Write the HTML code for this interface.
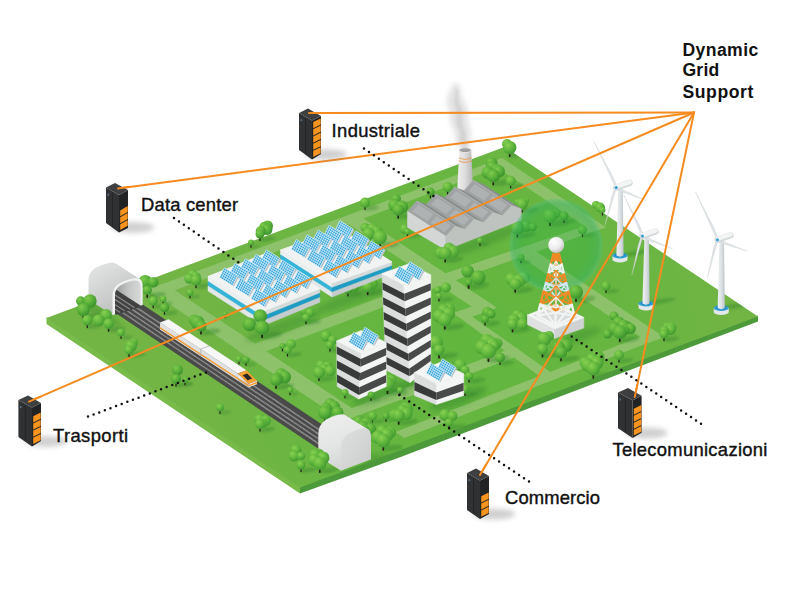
<!DOCTYPE html><html><head><meta charset="utf-8"><title>Dynamic Grid Support</title><style>html,body{margin:0;padding:0;background:#fff}svg{display:block}text{font-family:"Liberation Sans",sans-serif}</style></head><body><svg width="801" height="601" viewBox="0 0 801 601">
<defs>
<radialGradient id="tg" cx="35%" cy="30%" r="75%"><stop offset="0" stop-color="#88d152"/><stop offset=".5" stop-color="#63b83e"/><stop offset="1" stop-color="#3f9830"/></radialGradient>
<radialGradient id="tg2" cx="35%" cy="30%" r="75%"><stop offset="0" stop-color="#80ca4e"/><stop offset=".5" stop-color="#5ab13a"/><stop offset="1" stop-color="#388f2c"/></radialGradient>
<radialGradient id="ball" cx="35%" cy="30%" r="75%"><stop offset="0" stop-color="#ffffff"/><stop offset=".6" stop-color="#ececec"/><stop offset="1" stop-color="#bdbdbd"/></radialGradient>
<radialGradient id="sph" cx="50%" cy="50%" r="50%"><stop offset="0" stop-color="#22ad42" stop-opacity=".26"/><stop offset=".7" stop-color="#22ad46" stop-opacity=".32"/><stop offset=".9" stop-color="#2fb060" stop-opacity=".46"/><stop offset="1" stop-color="#55c080" stop-opacity=".42"/></radialGradient>
<linearGradient id="twr" x1="0" x2="1"><stop offset="0" stop-color="#eef1f2"/><stop offset=".5" stop-color="#dde2e4"/><stop offset="1" stop-color="#bcc4c8"/></linearGradient>
<linearGradient id="chim" x1="0" x2="1"><stop offset="0" stop-color="#f0f0f0"/><stop offset=".5" stop-color="#dcdcdc"/><stop offset="1" stop-color="#b4b4b4"/></linearGradient>
<linearGradient id="pan" x1="0" y1="1" x2="1" y2="0"><stop offset="0" stop-color="#2797d4"/><stop offset="1" stop-color="#3aaee2"/></linearGradient>
<linearGradient id="tun" x1="0" y1="0" x2=".6" y2="1"><stop offset="0" stop-color="#e6e8e8"/><stop offset=".45" stop-color="#d3d5d5"/><stop offset="1" stop-color="#b9bcbc"/></linearGradient><linearGradient id="tunin" x1="0" y1="0" x2="1" y2="0"><stop offset="0" stop-color="#9a9c9c"/><stop offset=".5" stop-color="#c2c4c4"/><stop offset="1" stop-color="#d8dada"/></linearGradient><linearGradient id="tun2" x1="0" y1="0" x2=".3" y2="1"><stop offset="0" stop-color="#efefef"/><stop offset=".6" stop-color="#e3e4e4"/><stop offset="1" stop-color="#d4d5d5"/></linearGradient><linearGradient id="tun2f" x1="0" y1="0" x2="1" y2="1"><stop offset="0" stop-color="#dedfdf"/><stop offset="1" stop-color="#cbcccc"/></linearGradient>
<radialGradient id="gtint" gradientUnits="userSpaceOnUse" cx="470" cy="350" r="270"><stop offset="0" stop-color="#48b834" stop-opacity=".4"/><stop offset=".6" stop-color="#48b834" stop-opacity=".24"/><stop offset="1" stop-color="#48b834" stop-opacity="0"/></radialGradient>
<filter id="b1" x="-50%" y="-50%" width="200%" height="200%"><feGaussianBlur stdDeviation="1.2"/></filter>
<filter id="b2" x="-50%" y="-50%" width="200%" height="200%"><feGaussianBlur stdDeviation="2.5"/></filter>
<filter id="b3" x="-50%" y="-50%" width="200%" height="200%"><feGaussianBlur stdDeviation="4"/></filter>
<g id="panel">
<polygon points="13,8.1 17.9,-1.6 19.4,-0.3 14.3,8.9" fill="#b9bfc4"/>
<polygon points="0,0 4.9,-9.7 17.9,-1.6 13,8.1" fill="url(#pan)"/>
<path d="M0.00,-0.00 l13,8.1 M0.98,-1.94 l13,8.1 M1.96,-3.88 l13,8.1 M2.94,-5.82 l13,8.1 M3.92,-7.76 l13,8.1 M4.90,-9.70 l13,8.1 M0.00,0.00 l4.9,-9.7 M1.86,1.16 l4.9,-9.7 M3.71,2.31 l4.9,-9.7 M5.57,3.47 l4.9,-9.7 M7.43,4.63 l4.9,-9.7 M9.29,5.79 l4.9,-9.7 M11.14,6.94 l4.9,-9.7 M13.00,8.10 l4.9,-9.7 " stroke="#f4fbff" stroke-width=".75" stroke-opacity=".8" fill="none"/>
</g>
</defs>

<polygon points="46.5,317.0 300.0,486.5 300.0,493.5 46.5,324.0" fill="#79bb4a" />
<polygon points="300.0,486.5 758.0,315.5 758.0,321.5 400.0,457.3 300.0,493.5" fill="#4d9a3a" />
<polygon points="46.5,318.0 504.5,147.0 758.0,316.5 300.0,487.5" fill="#72b545" />
<polygon points="46.5,318.0 504.5,147.0 758.0,316.5 300.0,487.5" fill="url(#gtint)"/>
<g transform="matrix(4.5800,-1.7100,2.5350,1.6950,46.5,318.0)">
<polygon points="20,3.5 97.35,3.8 97.35,6.7 20,7.7" fill="#8dc26a"/>
<polygon points="94.65,3.8 97.35,3.8 97.35,44.7 94.65,44.7" fill="#8dc26a"/>
<polygon points="20.2,3.5 23.8,3.5 23.9,81 20,81" fill="#8dc26a"/>
<polygon points="20,39.2 65,39.4 97.35,41.4 97.35,44.7 65,43.5 20,43.6" fill="#8dc26a"/>
<polygon points="79.25,41 82.55000000000001,41 82.55000000000001,94.5 79.25,94.5" fill="#8dc26a"/>
<polygon points="25,92.5 82.55,90.9 82.55,94.3 25,96" fill="#8dc26a"/>
<polygon points="20,77.19999999999999 59.5,77.19999999999999 59.5,81.0 20,81.0" fill="#8dc26a"/>
<polygon points="61.95,3.8 65.25,3.8 65.25,59.7 61.95,59.7" fill="#8dc26a"/>
<polygon points="58,55.7 65.2,55.7 65.2,59.7 58,59.7" fill="#8dc26a"/>
<polygon points="58,55.7 60.0,55.7 59.2,95 56.8,95" fill="#8dc26a"/>
<rect x="10.7" y="6" width="5.6" height="88" fill="#4a4a4a"/>
<line x1="11.8" y1="6" x2="11.8" y2="94" stroke="#a0a0a0" stroke-width=".36"/>
<line x1="11.8" y1="6" x2="11.8" y2="94" stroke="#5e5e5e" stroke-width=".36" stroke-dasharray=".2 .34"/>
<line x1="12.8" y1="6" x2="12.8" y2="94" stroke="#a0a0a0" stroke-width=".36"/>
<line x1="12.8" y1="6" x2="12.8" y2="94" stroke="#5e5e5e" stroke-width=".36" stroke-dasharray=".2 .34"/>
<line x1="13.8" y1="6" x2="13.8" y2="94" stroke="#a0a0a0" stroke-width=".36"/>
<line x1="13.8" y1="6" x2="13.8" y2="94" stroke="#5e5e5e" stroke-width=".36" stroke-dasharray=".2 .34"/>
<line x1="14.8" y1="6" x2="14.8" y2="94" stroke="#a0a0a0" stroke-width=".36"/>
<line x1="14.8" y1="6" x2="14.8" y2="94" stroke="#5e5e5e" stroke-width=".36" stroke-dasharray=".2 .34"/>
</g>
<clipPath id="gclip"><polygon points="46.5,318.0 504.5,147.0 758.0,316.5 300.0,487.5"/></clipPath>
<g clip-path="url(#gclip)"><ellipse cx="91.7" cy="317.9" rx="10.4" ry="2.8" fill="#2e7d2a" opacity=".36" filter="url(#b1)" transform="rotate(-8 83.3 316.3)"/><ellipse cx="93.9" cy="327.1" rx="8.2" ry="2.2" fill="#2e7d2a" opacity=".36" filter="url(#b1)" transform="rotate(-8 87.3 325.5)"/><ellipse cx="116.1" cy="330.5" rx="9.3" ry="2.5" fill="#2e7d2a" opacity=".36" filter="url(#b1)" transform="rotate(-8 108.6 328.9)"/><ellipse cx="155.6" cy="296.6" rx="10.4" ry="2.8" fill="#2e7d2a" opacity=".36" filter="url(#b1)" transform="rotate(-8 147.2 295.0)"/><ellipse cx="159.1" cy="307.3" rx="7.3" ry="2.0" fill="#2e7d2a" opacity=".36" filter="url(#b1)" transform="rotate(-8 153.2 305.7)"/><ellipse cx="167.3" cy="303.9" rx="5.1" ry="1.4" fill="#2e7d2a" opacity=".36" filter="url(#b1)" transform="rotate(-8 163.2 302.3)"/><ellipse cx="170.4" cy="313.9" rx="7.3" ry="2.0" fill="#2e7d2a" opacity=".36" filter="url(#b1)" transform="rotate(-8 164.5 312.3)"/><ellipse cx="202.9" cy="287.1" rx="8.5" ry="2.3" fill="#2e7d2a" opacity=".36" filter="url(#b1)" transform="rotate(-8 196.0 285.5)"/><ellipse cx="194.4" cy="297.6" rx="5.4" ry="1.5" fill="#2e7d2a" opacity=".36" filter="url(#b1)" transform="rotate(-8 190.0 296.0)"/><ellipse cx="209.8" cy="333.1" rx="10.8" ry="2.9" fill="#2e7d2a" opacity=".36" filter="url(#b1)" transform="rotate(-8 201.0 331.5)"/><ellipse cx="126.0" cy="338.1" rx="6.2" ry="1.7" fill="#2e7d2a" opacity=".36" filter="url(#b1)" transform="rotate(-8 121.0 336.5)"/><ellipse cx="136.5" cy="356.1" rx="9.3" ry="2.5" fill="#2e7d2a" opacity=".36" filter="url(#b1)" transform="rotate(-8 129.0 354.5)"/><ellipse cx="182.9" cy="385.6" rx="8.5" ry="2.3" fill="#2e7d2a" opacity=".36" filter="url(#b1)" transform="rotate(-8 176.0 384.0)"/><ellipse cx="188.8" cy="384.6" rx="4.7" ry="1.3" fill="#2e7d2a" opacity=".36" filter="url(#b1)" transform="rotate(-8 185.0 383.0)"/><ellipse cx="227.5" cy="317.6" rx="3.1" ry="0.8" fill="#2e7d2a" opacity=".36" filter="url(#b1)" transform="rotate(-8 225.0 316.0)"/><ellipse cx="271.2" cy="336.6" rx="11.3" ry="3.1" fill="#2e7d2a" opacity=".36" filter="url(#b1)" transform="rotate(-8 262.1 335.0)"/><ellipse cx="312.9" cy="323.1" rx="8.5" ry="2.3" fill="#2e7d2a" opacity=".36" filter="url(#b1)" transform="rotate(-8 306.0 321.5)"/><ellipse cx="293.8" cy="355.6" rx="7.8" ry="2.1" fill="#2e7d2a" opacity=".36" filter="url(#b1)" transform="rotate(-8 287.5 354.0)"/><ellipse cx="286.2" cy="350.6" rx="4.7" ry="1.3" fill="#2e7d2a" opacity=".36" filter="url(#b1)" transform="rotate(-8 282.5 349.0)"/><ellipse cx="336.9" cy="350.6" rx="8.5" ry="2.3" fill="#2e7d2a" opacity=".36" filter="url(#b1)" transform="rotate(-8 330.0 349.0)"/><ellipse cx="326.5" cy="380.1" rx="9.3" ry="2.5" fill="#2e7d2a" opacity=".36" filter="url(#b1)" transform="rotate(-8 319.0 378.5)"/><ellipse cx="284.1" cy="387.6" rx="10.1" ry="2.7" fill="#2e7d2a" opacity=".36" filter="url(#b1)" transform="rotate(-8 276.0 386.0)"/><ellipse cx="293.8" cy="394.6" rx="4.7" ry="1.3" fill="#2e7d2a" opacity=".36" filter="url(#b1)" transform="rotate(-8 290.0 393.0)"/><ellipse cx="242.8" cy="363.6" rx="4.7" ry="1.3" fill="#2e7d2a" opacity=".36" filter="url(#b1)" transform="rotate(-8 239.0 362.0)"/><ellipse cx="250.4" cy="365.1" rx="5.4" ry="1.5" fill="#2e7d2a" opacity=".36" filter="url(#b1)" transform="rotate(-8 246.0 363.5)"/><ellipse cx="225.0" cy="413.1" rx="6.2" ry="1.7" fill="#2e7d2a" opacity=".36" filter="url(#b1)" transform="rotate(-8 220.0 411.5)"/><ellipse cx="266.8" cy="430.6" rx="8.4" ry="2.3" fill="#2e7d2a" opacity=".36" filter="url(#b1)" transform="rotate(-8 260.0 429.0)"/><ellipse cx="333.8" cy="421.1" rx="10.8" ry="2.9" fill="#2e7d2a" opacity=".36" filter="url(#b1)" transform="rotate(-8 325.0 419.5)"/><ellipse cx="307.9" cy="471.1" rx="8.5" ry="2.3" fill="#2e7d2a" opacity=".36" filter="url(#b1)" transform="rotate(-8 301.0 469.5)"/><ellipse cx="328.1" cy="471.6" rx="10.2" ry="2.8" fill="#2e7d2a" opacity=".36" filter="url(#b1)" transform="rotate(-8 319.8 470.0)"/><ellipse cx="372.5" cy="436.9" rx="10.1" ry="2.7" fill="#2e7d2a" opacity=".36" filter="url(#b1)" transform="rotate(-8 364.4 435.3)"/><ellipse cx="392.1" cy="449.2" rx="10.8" ry="2.9" fill="#2e7d2a" opacity=".36" filter="url(#b1)" transform="rotate(-8 383.3 447.6)"/><ellipse cx="349.4" cy="397.6" rx="5.4" ry="1.5" fill="#2e7d2a" opacity=".36" filter="url(#b1)" transform="rotate(-8 345.0 396.0)"/><ellipse cx="375.4" cy="400.1" rx="5.4" ry="1.5" fill="#2e7d2a" opacity=".36" filter="url(#b1)" transform="rotate(-8 371.0 398.5)"/><ellipse cx="396.2" cy="392.6" rx="10.8" ry="2.9" fill="#2e7d2a" opacity=".36" filter="url(#b1)" transform="rotate(-8 387.5 391.0)"/><ellipse cx="407.4" cy="423.3" rx="10.8" ry="2.9" fill="#2e7d2a" opacity=".36" filter="url(#b1)" transform="rotate(-8 398.7 421.7)"/><ellipse cx="390.4" cy="421.1" rx="5.4" ry="1.5" fill="#2e7d2a" opacity=".36" filter="url(#b1)" transform="rotate(-8 386.0 419.5)"/><ellipse cx="378.1" cy="422.1" rx="7.0" ry="1.9" fill="#2e7d2a" opacity=".36" filter="url(#b1)" transform="rotate(-8 372.5 420.5)"/><ellipse cx="403.8" cy="394.6" rx="4.7" ry="1.3" fill="#2e7d2a" opacity=".36" filter="url(#b1)" transform="rotate(-8 400.0 393.0)"/><ellipse cx="354.6" cy="295.4" rx="8.4" ry="2.3" fill="#2e7d2a" opacity=".36" filter="url(#b1)" transform="rotate(-8 347.9 293.8)"/><ellipse cx="375.8" cy="293.8" rx="10.1" ry="2.7" fill="#2e7d2a" opacity=".36" filter="url(#b1)" transform="rotate(-8 367.7 292.2)"/><ellipse cx="453.3" cy="261.2" rx="10.1" ry="2.7" fill="#2e7d2a" opacity=".36" filter="url(#b1)" transform="rotate(-8 445.2 259.6)"/><ellipse cx="477.7" cy="287.2" rx="11.3" ry="3.1" fill="#2e7d2a" opacity=".36" filter="url(#b1)" transform="rotate(-8 468.6 285.6)"/><ellipse cx="445.2" cy="300.6" rx="7.8" ry="2.1" fill="#2e7d2a" opacity=".36" filter="url(#b1)" transform="rotate(-8 439.0 299.0)"/><ellipse cx="453.6" cy="328.2" rx="10.8" ry="2.9" fill="#2e7d2a" opacity=".36" filter="url(#b1)" transform="rotate(-8 444.8 326.6)"/><ellipse cx="491.9" cy="324.6" rx="8.5" ry="2.3" fill="#2e7d2a" opacity=".36" filter="url(#b1)" transform="rotate(-8 485.0 323.0)"/><ellipse cx="447.8" cy="357.1" rx="10.8" ry="2.9" fill="#2e7d2a" opacity=".36" filter="url(#b1)" transform="rotate(-8 439.0 355.5)"/><ellipse cx="498.0" cy="360.4" rx="11.9" ry="3.2" fill="#2e7d2a" opacity=".36" filter="url(#b1)" transform="rotate(-8 488.4 358.8)"/><ellipse cx="506.2" cy="364.1" rx="7.8" ry="2.1" fill="#2e7d2a" opacity=".36" filter="url(#b1)" transform="rotate(-8 500.0 362.5)"/><ellipse cx="476.5" cy="381.6" rx="9.3" ry="2.5" fill="#2e7d2a" opacity=".36" filter="url(#b1)" transform="rotate(-8 469.0 380.0)"/><ellipse cx="470.6" cy="395.1" rx="7.0" ry="1.9" fill="#2e7d2a" opacity=".36" filter="url(#b1)" transform="rotate(-8 465.0 393.5)"/><ellipse cx="266.9" cy="240.1" rx="8.5" ry="2.3" fill="#2e7d2a" opacity=".36" filter="url(#b1)" transform="rotate(-8 260.0 238.5)"/><ellipse cx="254.8" cy="247.1" rx="4.7" ry="1.3" fill="#2e7d2a" opacity=".36" filter="url(#b1)" transform="rotate(-8 251.0 245.5)"/><ellipse cx="388.8" cy="246.1" rx="10.8" ry="2.9" fill="#2e7d2a" opacity=".36" filter="url(#b1)" transform="rotate(-8 380.0 244.5)"/><ellipse cx="406.3" cy="217.3" rx="10.1" ry="2.7" fill="#2e7d2a" opacity=".36" filter="url(#b1)" transform="rotate(-8 398.2 215.7)"/><ellipse cx="371.2" cy="209.1" rx="7.8" ry="2.1" fill="#2e7d2a" opacity=".36" filter="url(#b1)" transform="rotate(-8 365.0 207.5)"/><ellipse cx="518.1" cy="155.9" rx="10.4" ry="2.8" fill="#2e7d2a" opacity=".36" filter="url(#b1)" transform="rotate(-8 509.7 154.3)"/><ellipse cx="501.6" cy="184.1" rx="10.2" ry="2.8" fill="#2e7d2a" opacity=".36" filter="url(#b1)" transform="rotate(-8 493.3 182.5)"/><ellipse cx="517.0" cy="187.6" rx="7.8" ry="2.1" fill="#2e7d2a" opacity=".36" filter="url(#b1)" transform="rotate(-8 510.7 186.0)"/><ellipse cx="453.9" cy="193.6" rx="7.8" ry="2.1" fill="#2e7d2a" opacity=".36" filter="url(#b1)" transform="rotate(-8 447.6 192.0)"/><ellipse cx="435.6" cy="197.4" rx="6.5" ry="1.8" fill="#2e7d2a" opacity=".36" filter="url(#b1)" transform="rotate(-8 430.4 195.8)"/><ellipse cx="413.6" cy="236.4" rx="7.8" ry="2.1" fill="#2e7d2a" opacity=".36" filter="url(#b1)" transform="rotate(-8 407.4 234.8)"/><ellipse cx="529.5" cy="211.6" rx="9.3" ry="2.5" fill="#2e7d2a" opacity=".36" filter="url(#b1)" transform="rotate(-8 522.0 210.0)"/><ellipse cx="525.8" cy="236.3" rx="10.4" ry="2.8" fill="#2e7d2a" opacity=".36" filter="url(#b1)" transform="rotate(-8 517.4 234.7)"/><ellipse cx="483.8" cy="245.0" rx="4.7" ry="1.3" fill="#2e7d2a" opacity=".36" filter="url(#b1)" transform="rotate(-8 480.0 243.4)"/><ellipse cx="558.8" cy="224.6" rx="10.8" ry="2.9" fill="#2e7d2a" opacity=".36" filter="url(#b1)" transform="rotate(-8 550.0 223.0)"/><ellipse cx="569.6" cy="222.1" rx="7.0" ry="1.9" fill="#2e7d2a" opacity=".36" filter="url(#b1)" transform="rotate(-8 564.0 220.5)"/><ellipse cx="588.1" cy="236.1" rx="7.0" ry="1.9" fill="#2e7d2a" opacity=".36" filter="url(#b1)" transform="rotate(-8 582.5 234.5)"/><ellipse cx="608.8" cy="214.6" rx="7.8" ry="2.1" fill="#2e7d2a" opacity=".36" filter="url(#b1)" transform="rotate(-8 602.5 213.0)"/><ellipse cx="525.4" cy="262.6" rx="5.4" ry="1.5" fill="#2e7d2a" opacity=".36" filter="url(#b1)" transform="rotate(-8 521.0 261.0)"/><ellipse cx="523.3" cy="291.3" rx="10.1" ry="2.7" fill="#2e7d2a" opacity=".36" filter="url(#b1)" transform="rotate(-8 515.2 289.7)"/><ellipse cx="611.6" cy="292.1" rx="7.0" ry="1.9" fill="#2e7d2a" opacity=".36" filter="url(#b1)" transform="rotate(-8 606.0 290.5)"/><ellipse cx="584.8" cy="300.6" rx="10.8" ry="2.9" fill="#2e7d2a" opacity=".36" filter="url(#b1)" transform="rotate(-8 576.0 299.0)"/><ellipse cx="520.6" cy="331.1" rx="10.1" ry="2.7" fill="#2e7d2a" opacity=".36" filter="url(#b1)" transform="rotate(-8 512.5 329.5)"/><ellipse cx="551.2" cy="356.1" rx="10.8" ry="2.9" fill="#2e7d2a" opacity=".36" filter="url(#b1)" transform="rotate(-8 542.5 354.5)"/><ellipse cx="569.1" cy="360.1" rx="10.1" ry="2.7" fill="#2e7d2a" opacity=".36" filter="url(#b1)" transform="rotate(-8 561.0 358.5)"/><ellipse cx="602.0" cy="377.2" rx="10.8" ry="2.9" fill="#2e7d2a" opacity=".36" filter="url(#b1)" transform="rotate(-8 593.3 375.6)"/><ellipse cx="625.2" cy="361.6" rx="7.8" ry="2.1" fill="#2e7d2a" opacity=".36" filter="url(#b1)" transform="rotate(-8 619.0 360.0)"/><ellipse cx="628.5" cy="340.7" rx="10.8" ry="2.9" fill="#2e7d2a" opacity=".36" filter="url(#b1)" transform="rotate(-8 619.8 339.1)"/><ellipse cx="670.9" cy="340.1" rx="8.5" ry="2.3" fill="#2e7d2a" opacity=".36" filter="url(#b1)" transform="rotate(-8 664.0 338.5)"/><ellipse cx="456.5" cy="428.1" rx="9.3" ry="2.5" fill="#2e7d2a" opacity=".36" filter="url(#b1)" transform="rotate(-8 449.0 426.5)"/><ellipse cx="282.5" cy="327.0" rx="40" ry="6" fill="#2e7d2a" opacity=".3" filter="url(#b2)" transform="rotate(-20 282.5 326.0)"/><ellipse cx="352.0" cy="298.0" rx="40" ry="6" fill="#2e7d2a" opacity=".3" filter="url(#b2)" transform="rotate(-20 352.0 297.0)"/><ellipse cx="432.0" cy="376.5" rx="30" ry="7" fill="#2b7a28" opacity=".35" filter="url(#b2)" transform="rotate(-20 432.0 376.5)"/><ellipse cx="380.7" cy="393.0" rx="30" ry="7" fill="#2b7a28" opacity=".35" filter="url(#b2)" transform="rotate(-20 380.7 393.0)"/><ellipse cx="458.3" cy="398.5" rx="30" ry="7" fill="#2b7a28" opacity=".35" filter="url(#b2)" transform="rotate(-20 458.3 398.5)"/><ellipse cx="480.9" cy="242.0" rx="42" ry="6" fill="#2b7a28" opacity=".3" filter="url(#b2)" transform="rotate(-21 480.9 242.0)"/><ellipse cx="101.5" cy="314" rx="22" ry="5" fill="#2b7a28" opacity=".3" filter="url(#b2)" transform="rotate(33 101.5 314)"/><ellipse cx="377.8" cy="458.8" rx="16" ry="5" fill="#2b7a28" opacity=".3" filter="url(#b2)"/><ellipse cx="580" cy="336" rx="22" ry="5" fill="#2b7a28" opacity=".3" filter="url(#b2)" transform="rotate(-20 580 336)"/><ellipse cx="634" cy="256" rx="16" ry="2.5" fill="#2b7a28" opacity=".35" filter="url(#b1)" transform="rotate(-10 620 257)"/><ellipse cx="660" cy="304" rx="16" ry="2.5" fill="#2b7a28" opacity=".35" filter="url(#b1)" transform="rotate(-10 646 305)"/><ellipse cx="735.25" cy="308.5" rx="16" ry="2.5" fill="#2b7a28" opacity=".35" filter="url(#b1)" transform="rotate(-10 721.25 309.5)"/></g>
<path d="M509.7,152.3 v4.2" stroke="#241f14" stroke-width="1.6" stroke-linecap="round"/><circle cx="507" cy="144" r="5" fill="url(#tg)"/><circle cx="509.7" cy="147.6" r="6.7" fill="url(#tg)"/>
<path d="M493.3,180.5 v4.2" stroke="#241f14" stroke-width="1.6" stroke-linecap="round"/><circle cx="491.5" cy="163" r="6" fill="url(#tg2)"/><circle cx="492.0" cy="166.8" r="5.7" fill="url(#tg2)"/><circle cx="496.5" cy="170.4" r="6.5" fill="url(#tg2)"/><circle cx="499" cy="171.5" r="6" fill="url(#tg2)"/><circle cx="487.9" cy="172.6" r="6.3" fill="url(#tg2)"/><circle cx="493.3" cy="175.9" r="6.6" fill="url(#tg2)"/>
<path d="M510.7,184.0 v4.0" stroke="#241f14" stroke-width="1.2" stroke-linecap="round"/><circle cx="510.7" cy="181" r="5" fill="url(#tg)"/>
<path d="M447.6,190.0 v4.0" stroke="#241f14" stroke-width="1.2" stroke-linecap="round"/><circle cx="447.6" cy="187" r="5" fill="url(#tg)"/>
<path d="M430.4,193.8 v3.9" stroke="#241f14" stroke-width="1.2" stroke-linecap="round"/><circle cx="430.4" cy="191.6" r="4.2" fill="url(#tg2)"/>
<path d="M365.0,205.5 v4.0" stroke="#241f14" stroke-width="1.2" stroke-linecap="round"/><circle cx="365" cy="202.5" r="5" fill="url(#tg)"/>
<path d="M522.0,208.0 v4.1" stroke="#241f14" stroke-width="1.4" stroke-linecap="round"/><circle cx="526" cy="201" r="3" fill="url(#tg)"/><circle cx="517.4" cy="202" r="3" fill="url(#tg)"/><circle cx="522" cy="204" r="6" fill="url(#tg)"/>
<path d="M459.2,150.2 L457.2,192 Q465.2,196 473.2,192 L471.2,150.2 Z" fill="url(#chim)"/><ellipse cx="465.2" cy="150.2" rx="6" ry="2.4" fill="#9c9c9c" stroke="#e9e9e9" stroke-width="1"/><path d="M458.9,157.7 q6.3,3.4 12.6,0 M458.75,160.7 q6.45,3.4 12.9,0" stroke="#f0923a" stroke-width=".8" fill="none"/><g filter="url(#b2)" opacity=".42"><path d="M460.7,148.5 C452.5,141.0 457.0,135.0 452.5,127.5 C448.0,120.0 451.0,114.0 447.2,105.0 C445.0,97.5 451.0,91.5 452.5,84.0 L458.5,83.2 C462.2,91.5 460.7,96.0 465.2,103.5 C470.5,111.0 466.0,118.5 469.3,126.0 C472.7,135.0 469.3,142.5 470.2,148.5 Z" fill="#bdbdbd"/></g><g filter="url(#b1)" opacity=".2"><path d="M462.2,148.2 C457.0,141.0 462.2,135.0 457.7,127.5 C454.0,120.0 458.5,112.5 454.7,105.0 C452.5,99.0 456.2,94.5 455.5,88.5 L457.7,88.5 C459.2,96.0 457.7,100.5 460.7,106.5 C464.5,114.0 460.7,120.0 463.7,127.5 C467.5,135.0 465.2,141.0 468.2,148.2 Z" fill="#9d9d9d"/></g>
<path d="M602.5,211.0 v4.0" stroke="#241f14" stroke-width="1.2" stroke-linecap="round"/><circle cx="596" cy="205" r="4" fill="url(#tg)"/><circle cx="600" cy="207.5" r="5" fill="url(#tg)"/><circle cx="602.5" cy="210" r="3" fill="url(#tg)"/>
<path d="M398.2,213.7 v4.2" stroke="#241f14" stroke-width="1.6" stroke-linecap="round"/><circle cx="396" cy="199" r="5" fill="url(#tg2)"/><circle cx="394.4" cy="205.1" r="6.3" fill="url(#tg2)"/><circle cx="401.8" cy="206.9" r="6.5" fill="url(#tg2)"/><circle cx="398.2" cy="209.8" r="5.9" fill="url(#tg2)"/>
<path d="M564.0,218.5 v3.9" stroke="#241f14" stroke-width="1.2" stroke-linecap="round"/><circle cx="564" cy="216" r="4.5" fill="url(#tg2)"/>
<path d="M550.0,221.0 v4.2" stroke="#241f14" stroke-width="1.7" stroke-linecap="round"/><circle cx="555" cy="214" r="5" fill="url(#tg)"/><circle cx="550" cy="216" r="7" fill="url(#tg)"/>
<path d="M582.5,232.5 v3.9" stroke="#241f14" stroke-width="1.2" stroke-linecap="round"/><circle cx="582.5" cy="230" r="4.5" fill="url(#tg)"/>
<path d="M517.4,232.7 v4.2" stroke="#241f14" stroke-width="1.6" stroke-linecap="round"/><circle cx="526" cy="226" r="6" fill="url(#tg2)"/><circle cx="532.7" cy="227" r="4.2" fill="url(#tg2)"/><circle cx="517.4" cy="228" r="6.7" fill="url(#tg2)"/>
<path d="M407.4,232.8 v4.0" stroke="#241f14" stroke-width="1.2" stroke-linecap="round"/><circle cx="404.6" cy="229" r="5" fill="url(#tg)"/><circle cx="407.4" cy="231.8" r="3" fill="url(#tg)"/>
<path d="M260.0,236.5 v4.1" stroke="#241f14" stroke-width="1.3" stroke-linecap="round"/><circle cx="267.5" cy="226" r="5.5" fill="url(#tg2)"/><circle cx="264.0" cy="226.8" r="4.7" fill="url(#tg2)"/><circle cx="267.0" cy="229.6" r="5.4" fill="url(#tg2)"/><circle cx="260.9" cy="231.1" r="5.2" fill="url(#tg2)"/><circle cx="260" cy="234" r="4.5" fill="url(#tg2)"/>
<path d="M480.0,241.4 v3.8" stroke="#241f14" stroke-width="1.2" stroke-linecap="round"/><circle cx="480" cy="240.4" r="3" fill="url(#tg)"/>
<path d="M380.0,242.5 v4.2" stroke="#241f14" stroke-width="1.7" stroke-linecap="round"/><circle cx="365" cy="227.5" r="4.5" fill="url(#tg)"/><circle cx="372.5" cy="228.7" r="5.6" fill="url(#tg)"/><circle cx="376.1" cy="232.1" r="6.5" fill="url(#tg)"/><circle cx="368.7" cy="233.8" r="6.3" fill="url(#tg)"/><circle cx="380" cy="237.5" r="7" fill="url(#tg)"/>
<path d="M251.0,243.5 v3.8" stroke="#241f14" stroke-width="1.2" stroke-linecap="round"/><circle cx="251" cy="242.5" r="3" fill="url(#tg)"/>
<polygon points="511.8,205.4 521.2,208.8 482.7,183.9 473.3,180.5" fill="#8b8e8f" stroke="#8b8e8f" stroke-width=".5"/><polygon points="502.4,215.6 511.8,205.4 473.3,180.5 463.9,190.7" fill="#a0a3a4" stroke="#a0a3a4" stroke-width=".5"/><path d="M511.8,205.4 l-38.5,-24.9" stroke="#b9bcbd" stroke-width=".8"/><polygon points="501.2,211.6 507.3,204.9 493.1,195.7 487.0,202.4" fill="#afb2b3" /><polygon points="483.9,200.4 490.0,193.7 475.0,184.0 468.9,190.7" fill="#afb2b3" /><polygon points="493.0,212.2 502.4,215.6 463.9,190.7 454.5,187.3" fill="#8b8e8f" stroke="#8b8e8f" stroke-width=".5"/><polygon points="483.6,222.5 493.0,212.2 454.5,187.3 445.1,197.6" fill="#a0a3a4" stroke="#a0a3a4" stroke-width=".5"/><path d="M493.0,212.2 l-38.5,-24.9" stroke="#b9bcbd" stroke-width=".8"/><polygon points="482.4,218.4 488.5,211.8 474.3,202.6 468.1,209.2" fill="#afb2b3" /><polygon points="465.1,207.2 471.2,200.6 456.2,190.9 450.1,197.5" fill="#afb2b3" /><polygon points="474.2,219.1 483.6,222.5 445.1,197.6 435.7,194.2" fill="#8b8e8f" stroke="#8b8e8f" stroke-width=".5"/><polygon points="464.8,229.3 474.2,219.1 435.7,194.2 426.3,204.4" fill="#a0a3a4" stroke="#a0a3a4" stroke-width=".5"/><path d="M474.2,219.1 l-38.5,-24.9" stroke="#b9bcbd" stroke-width=".8"/><polygon points="463.6,225.3 469.7,218.6 455.4,209.4 449.3,216.1" fill="#afb2b3" /><polygon points="446.2,214.1 452.4,207.4 437.4,197.7 431.2,204.4" fill="#afb2b3" /><polygon points="455.3,226.0 464.8,229.3 426.3,204.4 416.9,201.1" fill="#8b8e8f" stroke="#8b8e8f" stroke-width=".5"/><polygon points="445.9,236.2 455.3,226.0 416.9,201.1 407.5,211.3" fill="#a0a3a4" stroke="#a0a3a4" stroke-width=".5"/><path d="M455.3,226.0 l-38.5,-24.9" stroke="#b9bcbd" stroke-width=".8"/><polygon points="444.7,232.2 450.9,225.5 436.6,216.3 430.5,222.9" fill="#afb2b3" /><polygon points="427.4,221.0 433.5,214.3 418.5,204.6 412.4,211.2" fill="#afb2b3" /><polygon points="407.5,227.4 445.9,250.0 445.9,236.2 407.5,211.3" fill="#d3d6d5" stroke="#d3d6d5" stroke-width=".5"/><polygon points="445.9,250.0 521.2,220.0 521.2,208.8 511.8,205.4 502.4,215.6 493.0,212.2 483.6,222.5 474.2,219.1 464.8,229.3 455.3,226.0 445.9,236.2" fill="#bfc3c0" stroke="#bfc3c0" stroke-width=".5"/>
<path d="M612.5,255.5 v4 a7.5,3 0 0 0 15,0 v-4 Z" fill="#e4e8e8"/><ellipse cx="620" cy="255.5" rx="7.5" ry="3" fill="#2f9fd3"/><ellipse cx="620" cy="254.8" rx="5" ry="2" fill="#1d84bd"/><path d="M616.4,255.5 L618.1500000000001,189.0 L622.75,189.0 L623.6,255.5 Q620,257.8 616.4,255.5 Z" fill="url(#twr)"/><polygon points="617.4,186.9 612.1,175.2 593.8,141.2 615.8,187.7" fill="#dfe4e6" stroke="#c6cdd0" stroke-width=".3"/><polygon points="615.7,188.7 623.1,192.3 646.2,200.5 616.5,187.0" fill="#dfe4e6" stroke="#c6cdd0" stroke-width=".3"/><polygon points="615.0,187.1 611.8,196.4 605.0,225.0 616.7,187.6" fill="#dfe4e6" stroke="#c6cdd0" stroke-width=".3"/><path d="M616.25,187.5 L629.5,182.9" stroke="#d5dadb" stroke-width="6.4" stroke-linecap="round"/><path d="M616.55,186.6 L629.8,182.0" stroke="#f3f5f5" stroke-width="4.2" stroke-linecap="round"/><circle cx="616.25" cy="187.5" r="1.5" fill="#2f9fd3"/>
<path d="M445.2,257.6 v4.2" stroke="#241f14" stroke-width="1.6" stroke-linecap="round"/><circle cx="449.0" cy="248.2" r="5.6" fill="url(#tg)"/><circle cx="452.6" cy="251.6" r="6.5" fill="url(#tg)"/><circle cx="441" cy="253" r="6" fill="url(#tg)"/><circle cx="445.2" cy="253.3" r="6.3" fill="url(#tg)"/>
<path d="M521.0,259.0 v3.8" stroke="#241f14" stroke-width="1.2" stroke-linecap="round"/><circle cx="521" cy="257.5" r="3.5" fill="url(#tg2)"/>
<path d="M196.0,283.5 v4.1" stroke="#241f14" stroke-width="1.3" stroke-linecap="round"/><circle cx="192.5" cy="274.4" r="4.7" fill="url(#tg)"/><circle cx="195.5" cy="277.1" r="5.4" fill="url(#tg)"/><circle cx="189.3" cy="278.6" r="5.2" fill="url(#tg)"/><circle cx="196" cy="280" r="5.5" fill="url(#tg)"/>
<path d="M468.6,283.6 v4.3" stroke="#241f14" stroke-width="1.8" stroke-linecap="round"/><circle cx="467.6" cy="271.3" r="6.3" fill="url(#tg2)"/><circle cx="478.3" cy="277.6" r="7.3" fill="url(#tg2)"/><circle cx="468.6" cy="282.3" r="3.3" fill="url(#tg2)"/>
<path d="M515.2,287.7 v4.2" stroke="#241f14" stroke-width="1.6" stroke-linecap="round"/><circle cx="524" cy="277.5" r="6" fill="url(#tg)"/><circle cx="511.4" cy="279.1" r="6.3" fill="url(#tg)"/><circle cx="518.8" cy="280.9" r="6.5" fill="url(#tg)"/><circle cx="515.2" cy="283.8" r="5.9" fill="url(#tg)"/>
<path d="M606.0,288.5 v3.9" stroke="#241f14" stroke-width="1.2" stroke-linecap="round"/><circle cx="606" cy="286" r="4.5" fill="url(#tg)"/>
<path d="M367.7,290.2 v4.2" stroke="#241f14" stroke-width="1.6" stroke-linecap="round"/><circle cx="362.5" cy="276" r="6" fill="url(#tg)"/><circle cx="363.9" cy="281.6" r="6.3" fill="url(#tg)"/><circle cx="371.3" cy="283.4" r="6.5" fill="url(#tg)"/><circle cx="367.7" cy="286.3" r="5.9" fill="url(#tg)"/>
<path d="M347.9,291.8 v4.0" stroke="#241f14" stroke-width="1.3" stroke-linecap="round"/><circle cx="351.0" cy="284.4" r="4.7" fill="url(#tg2)"/><circle cx="354.0" cy="287.1" r="5.4" fill="url(#tg2)"/><circle cx="347.9" cy="288.6" r="5.2" fill="url(#tg2)"/>
<polygon points="280.5,250.0 332.0,283.0 332.0,287.8 280.5,254.8" fill="#ecefef" stroke="#ecefef" stroke-width=".5"/><polygon points="280.5,254.8 332.0,287.8 332.0,292.2 280.5,259.2" fill="#35b4da" stroke="#35b4da" stroke-width=".5"/><polygon points="280.5,259.2 332.0,292.2 332.0,297.0 280.5,264.0" fill="#e3e7e7" stroke="#e3e7e7" stroke-width=".5"/><polygon points="332.0,283.0 391.7,261.8 391.7,265.9 332.0,287.8" fill="#d4d9da" stroke="#d4d9da" stroke-width=".5"/><polygon points="332.0,287.8 391.7,265.9 391.7,269.7 332.0,292.2" fill="#1f9cc6" stroke="#1f9cc6" stroke-width=".5"/><polygon points="332.0,292.2 391.7,269.7 391.7,273.8 332.0,297.0" fill="#c6cccd" stroke="#c6cccd" stroke-width=".5"/><polygon points="280.5,250.0 332.0,283.0 391.7,261.8 340.2,228.8" fill="#f1f3f3" stroke="#f1f3f3" stroke-width=".9" stroke-linejoin="round"/><use href="#panel" x="335.0" y="230.4"/><use href="#panel" x="350.6" y="240.5"/><use href="#panel" x="366.2" y="250.6"/><use href="#panel" x="324.1" y="235.1"/><use href="#panel" x="339.7" y="245.2"/><use href="#panel" x="355.3" y="255.3"/><use href="#panel" x="313.2" y="239.8"/><use href="#panel" x="328.8" y="249.9"/><use href="#panel" x="344.4" y="260.0"/><use href="#panel" x="302.3" y="244.5"/><use href="#panel" x="317.9" y="254.6"/><use href="#panel" x="333.5" y="264.7"/><use href="#panel" x="291.4" y="249.2"/><use href="#panel" x="307.0" y="259.3"/><use href="#panel" x="322.6" y="269.4"/>
<path d="M147.2,293.0 v4.2" stroke="#241f14" stroke-width="1.6" stroke-linecap="round"/><circle cx="145.2" cy="281.6" r="6.7" fill="url(#tg2)"/><circle cx="153.2" cy="282.3" r="5.3" fill="url(#tg2)"/><circle cx="147.2" cy="290.3" r="4.7" fill="url(#tg2)"/>
<path d="M190.0,294.0 v3.8" stroke="#241f14" stroke-width="1.2" stroke-linecap="round"/><circle cx="190" cy="292.5" r="3.5" fill="url(#tg)"/>
<circle cx="556" cy="245.6" r="46.5" fill="url(#sph)"/>
<path d="M439.0,297.0 v4.0" stroke="#241f14" stroke-width="1.2" stroke-linecap="round"/><circle cx="446" cy="287.5" r="5" fill="url(#tg)"/><circle cx="437.5" cy="290" r="3.5" fill="url(#tg)"/><circle cx="439" cy="296" r="3" fill="url(#tg)"/>
<path d="M576.0,297.0 v4.2" stroke="#241f14" stroke-width="1.7" stroke-linecap="round"/><circle cx="576" cy="292" r="7" fill="url(#tg2)"/>
<path d="M163.2,300.3 v3.8" stroke="#241f14" stroke-width="1.2" stroke-linecap="round"/><circle cx="163.2" cy="299" r="3.3" fill="url(#tg)"/>
<polygon points="88.5,281.5 88.6,279.0 88.8,277.3 89.1,275.9 89.6,274.6 90.2,273.3 90.9,272.1 91.8,271.1 92.8,270.0 94.0,269.0 95.3,268.1 96.7,267.2 98.4,266.4 100.4,265.6 103.5,264.5 106.6,263.5 108.6,263.0 110.3,262.7 111.7,262.6 113.0,262.7 114.2,262.9 115.2,263.2 116.1,263.8 140.1,279.3 140.8,279.9 141.4,280.8 141.9,281.8 142.2,283.0 142.4,284.5 142.5,287.0 142.5,305.0 112.5,315.0 88.5,299.5" fill="url(#tun)" /><polygon points="112.5,315.0 112.5,297.0 112.6,294.5 112.8,292.8 113.1,291.4 113.6,290.1 114.2,288.8 114.9,287.6 115.8,286.5 116.8,285.5 118.0,284.5 119.3,283.6 120.7,282.7 122.4,281.9 124.4,281.1 127.5,280.0 130.6,279.0 132.6,278.5 134.3,278.2 135.7,278.1 137.0,278.2 138.2,278.4 139.2,278.8 140.1,279.3 140.8,279.9 141.4,280.8 141.9,281.8 142.2,283.0 142.4,284.5 142.5,287.0 142.5,305.0" fill="#f1f2f2" /><clipPath id="t1c"><polygon points="115.0,314.2 115.0,296.6 115.1,294.5 115.2,293.1 115.5,291.8 115.9,290.7 116.5,289.6 117.1,288.6 117.8,287.7 118.7,286.8 119.7,286.0 120.8,285.2 122.1,284.5 123.5,283.7 125.2,283.0 127.9,282.1 130.6,281.3 132.3,280.8 133.7,280.6 135.0,280.5 136.1,280.5 137.1,280.7 138.0,281.0 138.7,281.4 139.3,282.0 139.9,282.7 140.3,283.6 140.6,284.6 140.7,285.9 140.8,288.0 142.0,306.4 116.2,315.0"/></clipPath><polygon points="115.0,314.2 115.0,296.6 115.1,294.5 115.2,293.1 115.5,291.8 115.9,290.7 116.5,289.6 117.1,288.6 117.8,287.7 118.7,286.8 119.7,286.0 120.8,285.2 122.1,284.5 123.5,283.7 125.2,283.0 127.9,282.1 130.6,281.3 132.3,280.8 133.7,280.6 135.0,280.5 136.1,280.5 137.1,280.7 138.0,281.0 138.7,281.4 139.3,282.0 139.9,282.7 140.3,283.6 140.6,284.6 140.7,285.9 140.8,288.0 140.8,305.6" fill="url(#tunin)" /><g clip-path="url(#t1c)"><polygon points="116.2,315.0 142.0,306.4 113.2,287.8 87.4,296.4" fill="#414141" /><path d="M120.2,312.5L92.6,294.7" stroke="#8a8a8a" stroke-width="1.1"/><path d="M124.8,310.9L97.2,293.1" stroke="#8a8a8a" stroke-width="1.1"/><path d="M130.0,309.2L102.4,291.4" stroke="#8a8a8a" stroke-width="1.1"/><path d="M134.6,307.7L107.0,289.8" stroke="#8a8a8a" stroke-width="1.1"/></g>
<path d="M638.5,303.5 v4 a7.5,3 0 0 0 15,0 v-4 Z" fill="#e4e8e8"/><ellipse cx="646" cy="303.5" rx="7.5" ry="3" fill="#2f9fd3"/><ellipse cx="646" cy="302.8" rx="5" ry="2" fill="#1d84bd"/><path d="M642.4,303.5 L644.4000000000001,237.5 L649.0,237.5 L649.6,303.5 Q646,305.8 642.4,303.5 Z" fill="url(#twr)"/><polygon points="643.7,235.5 639.3,225.0 623.8,195.0 642.0,236.2" fill="#dfe4e6" stroke="#c6cdd0" stroke-width=".3"/><polygon points="642.0,237.2 649.3,240.7 672.5,248.8 642.7,235.5" fill="#dfe4e6" stroke="#c6cdd0" stroke-width=".3"/><polygon points="641.2,235.7 638.2,245.3 631.8,275.0 643.0,236.1" fill="#dfe4e6" stroke="#c6cdd0" stroke-width=".3"/><path d="M642.5,236 L655.5,231.5" stroke="#d5dadb" stroke-width="6.4" stroke-linecap="round"/><path d="M642.8,235.1 L655.8,230.6" stroke="#f3f5f5" stroke-width="4.2" stroke-linecap="round"/><circle cx="642.5" cy="236" r="1.5" fill="#2f9fd3"/>
<path d="M153.2,303.7 v4.0" stroke="#241f14" stroke-width="1.2" stroke-linecap="round"/><circle cx="153.2" cy="301" r="4.7" fill="url(#tg)"/>
<path d="M713.75,308.0 v4 a7.5,3 0 0 0 15,0 v-4 Z" fill="#e4e8e8"/><ellipse cx="721.25" cy="308.0" rx="7.5" ry="3" fill="#2f9fd3"/><ellipse cx="721.25" cy="307.3" rx="5" ry="2" fill="#1d84bd"/><path d="M717.65,308.0 L719.4000000000001,241.25 L724.0,241.25 L724.85,308.0 Q721.25,310.3 717.65,308.0 Z" fill="url(#twr)"/><polygon points="718.7,239.2 713.5,227.1 695.5,192.0 717.0,240.0" fill="#dfe4e6" stroke="#c6cdd0" stroke-width=".3"/><polygon points="717.0,241.0 724.4,244.2 747.5,251.2 717.7,239.3" fill="#dfe4e6" stroke="#c6cdd0" stroke-width=".3"/><polygon points="716.2,239.4 713.4,248.8 707.5,277.5 718.0,239.9" fill="#dfe4e6" stroke="#c6cdd0" stroke-width=".3"/><path d="M717.5,239.75 L730.5,235.2" stroke="#d5dadb" stroke-width="6.4" stroke-linecap="round"/><path d="M717.8,238.85 L730.8,234.29999999999998" stroke="#f3f5f5" stroke-width="4.2" stroke-linecap="round"/><circle cx="717.5" cy="239.75" r="1.5" fill="#2f9fd3"/>
<path d="M164.5,310.3 v4.0" stroke="#241f14" stroke-width="1.2" stroke-linecap="round"/><circle cx="164.5" cy="307.6" r="4.7" fill="url(#tg2)"/>
<path d="M225.0,314.0 v3.6" stroke="#241f14" stroke-width="1.2" stroke-linecap="round"/><circle cx="225" cy="314" r="2" fill="url(#tg)"/>
<path d="M83.3,314.3 v4.2" stroke="#241f14" stroke-width="1.6" stroke-linecap="round"/><circle cx="80.7" cy="301" r="4.7" fill="url(#tg2)"/><circle cx="90" cy="301" r="6.7" fill="url(#tg2)"/><circle cx="83.3" cy="309.6" r="6.7" fill="url(#tg2)"/>
<path d="M306.0,319.5 v4.1" stroke="#241f14" stroke-width="1.3" stroke-linecap="round"/><circle cx="304" cy="310" r="5.5" fill="url(#tg)"/><circle cx="310" cy="312.5" r="4.5" fill="url(#tg)"/><circle cx="306" cy="317.5" r="4" fill="url(#tg)"/>
<path d="M485.0,321.0 v4.1" stroke="#241f14" stroke-width="1.3" stroke-linecap="round"/><circle cx="487.5" cy="312.5" r="5.5" fill="url(#tg2)"/><circle cx="491" cy="314" r="4.5" fill="url(#tg2)"/><circle cx="485" cy="319" r="4" fill="url(#tg2)"/>
<polygon points="208.0,276.5 262.5,311.5 262.5,316.4 208.0,281.4" fill="#ecefef" stroke="#ecefef" stroke-width=".5"/><polygon points="208.0,281.4 262.5,316.4 262.5,321.1 208.0,286.1" fill="#35b4da" stroke="#35b4da" stroke-width=".5"/><polygon points="208.0,286.1 262.5,321.1 262.5,326.0 208.0,291.0" fill="#e3e7e7" stroke="#e3e7e7" stroke-width=".5"/><polygon points="262.5,311.5 319.8,288.7 319.8,293.3 262.5,316.4" fill="#d4d9da" stroke="#d4d9da" stroke-width=".5"/><polygon points="262.5,316.4 319.8,293.3 319.8,297.6 262.5,321.1" fill="#1f9cc6" stroke="#1f9cc6" stroke-width=".5"/><polygon points="262.5,321.1 319.8,297.6 319.8,302.2 262.5,326.0" fill="#c6cccd" stroke="#c6cccd" stroke-width=".5"/><polygon points="208.0,276.5 262.5,311.5 319.8,288.7 265.3,253.7" fill="#f1f3f3" stroke="#f1f3f3" stroke-width=".9" stroke-linejoin="round"/><use href="#panel" x="261.5" y="259.5"/><use href="#panel" x="277.3" y="270.0"/><use href="#panel" x="293.1" y="280.5"/><use href="#panel" x="251.0" y="264.0"/><use href="#panel" x="266.8" y="274.5"/><use href="#panel" x="282.6" y="285.0"/><use href="#panel" x="240.5" y="268.5"/><use href="#panel" x="256.3" y="279.0"/><use href="#panel" x="272.1" y="289.5"/><use href="#panel" x="230.0" y="273.0"/><use href="#panel" x="245.8" y="283.5"/><use href="#panel" x="261.6" y="294.0"/><use href="#panel" x="219.5" y="277.5"/><use href="#panel" x="235.3" y="288.0"/><use href="#panel" x="251.1" y="298.5"/>
<path d="M87.3,323.5 v4.0" stroke="#241f14" stroke-width="1.3" stroke-linecap="round"/><circle cx="87.3" cy="320.2" r="5.3" fill="url(#tg)"/>
<path d="M444.8,324.6 v4.2" stroke="#241f14" stroke-width="1.7" stroke-linecap="round"/><circle cx="449" cy="309" r="6" fill="url(#tg)"/><circle cx="443.5" cy="310.0" r="6.0" fill="url(#tg)"/><circle cx="448.2" cy="313.8" r="6.8" fill="url(#tg)"/><circle cx="437.5" cy="316" r="5" fill="url(#tg)"/><circle cx="439.2" cy="316.2" r="6.6" fill="url(#tg)"/><circle cx="444.8" cy="319.6" r="7.0" fill="url(#tg)"/>
<path d="M108.6,326.9 v4.1" stroke="#241f14" stroke-width="1.4" stroke-linecap="round"/><circle cx="106" cy="315" r="6" fill="url(#tg)"/><circle cx="98.6" cy="320.2" r="6" fill="url(#tg)"/><circle cx="108.6" cy="323.6" r="5.3" fill="url(#tg)"/>
<path d="M512.5,327.5 v4.2" stroke="#241f14" stroke-width="1.6" stroke-linecap="round"/><circle cx="517.5" cy="315.2" r="5.6" fill="url(#tg)"/><circle cx="521.1" cy="318.6" r="6.5" fill="url(#tg)"/><circle cx="513.7" cy="320.4" r="6.3" fill="url(#tg)"/><circle cx="512.5" cy="324" r="5.5" fill="url(#tg)"/><circle cx="522.5" cy="324" r="5.5" fill="url(#tg)"/>
<path d="M201.0,329.5 v4.2" stroke="#241f14" stroke-width="1.7" stroke-linecap="round"/><circle cx="194" cy="320" r="5.5" fill="url(#tg2)"/><circle cx="197.5" cy="322.5" r="7" fill="url(#tg2)"/><circle cx="201" cy="326" r="5.5" fill="url(#tg2)"/>
<path d="M262.1,333.0 v4.3" stroke="#241f14" stroke-width="1.8" stroke-linecap="round"/><circle cx="260.2" cy="316.1" r="6.9" fill="url(#tg2)"/><circle cx="249.4" cy="324.3" r="6.9" fill="url(#tg2)"/><circle cx="262.1" cy="327.7" r="7.3" fill="url(#tg2)"/>
<polygon points="527.5,315.0 555.0,328.8 555.0,338.2 527.5,324.5" fill="#e0e2e2" stroke="#e0e2e2" stroke-width=".6"/><polygon points="555.0,328.8 583.8,317.5 583.8,328.0 555.0,338.2" fill="#cfd2d2" stroke="#cfd2d2" stroke-width=".6"/><polygon points="527.5,315.0 555.0,328.8 583.8,317.5 556.0,304.0" fill="#f4f5f5" stroke="#f4f5f5" stroke-width=".8"/><polygon points="533.1,315.2 555.1,326.3 578.1,317.2 555.9,306.5" fill="#d9dcdc" /><path d="M556.0,252.0L550.5,264.1M553.2,253.6L556.0,261.4" stroke="#f28a25" stroke-width="1.16" opacity=".9"/><path d="M556.0,252.0L561.9,264.2M559.3,253.6L556.0,261.4" stroke="#f28a25" stroke-width="1.16" opacity=".9"/><path d="M553.2,253.6L556.1,267.2M556.2,255.2L550.5,264.1M556.2,255.2L553.2,253.6M556.1,267.2L550.5,264.1" stroke="#f28a25" stroke-width="1.41" stroke-linecap="round"/><path d="M556.2,255.2L561.9,264.2M559.3,253.6L556.1,267.2M559.3,253.6L556.2,255.2M561.9,264.2L556.1,267.2" stroke="#f28a25" stroke-width="1.41" stroke-linecap="round"/><path d="M556.0,252.0L556.0,261.4" stroke="#f28a25" stroke-width="0.99" stroke-linecap="round"/><path d="M553.2,253.6L550.5,264.1" stroke="#f28a25" stroke-width="1.65" stroke-linecap="round"/><path d="M559.3,253.6L561.9,264.2" stroke="#f28a25" stroke-width="1.65" stroke-linecap="round"/><path d="M556.2,255.2L556.1,267.2" stroke="#f28a25" stroke-width="1.65" stroke-linecap="round"/><path d="M556.0,261.4L548.0,274.0M550.5,264.1L556.0,270.3" stroke="#f2f4f4" stroke-width="1.26" opacity=".9"/><path d="M556.0,261.4L564.3,274.2M561.9,264.2L556.0,270.3" stroke="#f2f4f4" stroke-width="1.26" opacity=".9"/><path d="M550.5,264.1L556.0,278.4M556.1,267.2L548.0,274.0M556.1,267.2L550.5,264.1M556.0,278.4L548.0,274.0" stroke="#f2f4f4" stroke-width="1.53" stroke-linecap="round"/><path d="M556.1,267.2L564.3,274.2M561.9,264.2L556.0,278.4M561.9,264.2L556.1,267.2M564.3,274.2L556.0,278.4" stroke="#f2f4f4" stroke-width="1.53" stroke-linecap="round"/><path d="M556.0,261.4L556.0,270.3" stroke="#f2f4f4" stroke-width="1.08" stroke-linecap="round"/><path d="M550.5,264.1L548.0,274.0" stroke="#f2f4f4" stroke-width="1.80" stroke-linecap="round"/><path d="M561.9,264.2L564.3,274.2" stroke="#f2f4f4" stroke-width="1.80" stroke-linecap="round"/><path d="M556.1,267.2L556.0,278.4" stroke="#f2f4f4" stroke-width="1.80" stroke-linecap="round"/><path d="M556.0,270.3L545.8,282.7M548.0,274.0L556.0,278.1" stroke="#f28a25" stroke-width="1.35" opacity=".9"/><path d="M556.0,270.3L566.4,282.9M564.3,274.2L556.0,278.1" stroke="#f28a25" stroke-width="1.35" opacity=".9"/><path d="M548.0,274.0L555.9,288.2M556.0,278.4L545.8,282.7M556.0,278.4L548.0,274.0M555.9,288.2L545.8,282.7" stroke="#f28a25" stroke-width="1.63" stroke-linecap="round"/><path d="M556.0,278.4L566.4,282.9M564.3,274.2L555.9,288.2M564.3,274.2L556.0,278.4M566.4,282.9L555.9,288.2" stroke="#f28a25" stroke-width="1.63" stroke-linecap="round"/><path d="M556.0,270.3L556.0,278.1" stroke="#f28a25" stroke-width="1.15" stroke-linecap="round"/><path d="M548.0,274.0L545.8,282.7" stroke="#f28a25" stroke-width="1.92" stroke-linecap="round"/><path d="M564.3,274.2L566.4,282.9" stroke="#f28a25" stroke-width="1.92" stroke-linecap="round"/><path d="M556.0,278.4L555.9,288.2" stroke="#f28a25" stroke-width="1.92" stroke-linecap="round"/><path d="M556.0,278.1L543.6,291.4M545.8,282.7L556.0,285.9" stroke="#cfe6f2" stroke-width="1.43" opacity=".9"/><path d="M556.0,278.1L568.6,291.7M566.4,282.9L556.0,285.9" stroke="#cfe6f2" stroke-width="1.43" opacity=".9"/><path d="M545.8,282.7L555.8,298.1M555.9,288.2L543.6,291.4M555.9,288.2L545.8,282.7M555.8,298.1L543.6,291.4" stroke="#cfe6f2" stroke-width="1.74" stroke-linecap="round"/><path d="M555.9,288.2L568.6,291.7M566.4,282.9L555.8,298.1M566.4,282.9L555.9,288.2M568.6,291.7L555.8,298.1" stroke="#cfe6f2" stroke-width="1.74" stroke-linecap="round"/><path d="M556.0,278.1L556.0,285.9" stroke="#cfe6f2" stroke-width="1.23" stroke-linecap="round"/><path d="M545.8,282.7L543.6,291.4" stroke="#cfe6f2" stroke-width="2.05" stroke-linecap="round"/><path d="M566.4,282.9L568.6,291.7" stroke="#cfe6f2" stroke-width="2.05" stroke-linecap="round"/><path d="M555.9,288.2L555.8,298.1" stroke="#cfe6f2" stroke-width="2.05" stroke-linecap="round"/><path d="M556.0,285.9L540.3,304.4M543.6,291.4L556.0,297.5" stroke="#f28a25" stroke-width="1.57" opacity=".9"/><path d="M556.0,285.9L571.8,304.8M568.6,291.7L556.0,297.5" stroke="#f28a25" stroke-width="1.57" opacity=".9"/><path d="M543.6,291.4L555.6,312.8M555.8,298.1L540.3,304.4M555.8,298.1L543.6,291.4M555.6,312.8L540.3,304.4" stroke="#f28a25" stroke-width="1.90" stroke-linecap="round"/><path d="M555.8,298.1L571.8,304.8M568.6,291.7L555.6,312.8M568.6,291.7L555.8,298.1M571.8,304.8L555.6,312.8" stroke="#f28a25" stroke-width="1.90" stroke-linecap="round"/><path d="M556.0,285.9L556.0,297.5" stroke="#f28a25" stroke-width="1.34" stroke-linecap="round"/><path d="M543.6,291.4L540.3,304.4" stroke="#f28a25" stroke-width="2.24" stroke-linecap="round"/><path d="M568.6,291.7L571.8,304.8" stroke="#f28a25" stroke-width="2.24" stroke-linecap="round"/><path d="M555.8,298.1L555.6,312.8" stroke="#f28a25" stroke-width="2.24" stroke-linecap="round"/><path d="M556.0,297.5L537.5,315.5M540.3,304.4L556.0,307.5" stroke="#f2f4f4" stroke-width="1.68" opacity=".9"/><path d="M556.0,297.5L574.5,316.0M571.8,304.8L556.0,307.5" stroke="#f2f4f4" stroke-width="1.68" opacity=".9"/><path d="M540.3,304.4L555.5,325.5M555.6,312.8L537.5,315.5M555.6,312.8L540.3,304.4M555.5,325.5L537.5,315.5" stroke="#f2f4f4" stroke-width="2.04" stroke-linecap="round"/><path d="M555.6,312.8L574.5,316.0M571.8,304.8L555.5,325.5M571.8,304.8L555.6,312.8M574.5,316.0L555.5,325.5" stroke="#f2f4f4" stroke-width="2.04" stroke-linecap="round"/><path d="M556.0,297.5L556.0,307.5" stroke="#f2f4f4" stroke-width="1.44" stroke-linecap="round"/><path d="M540.3,304.4L537.5,315.5" stroke="#f2f4f4" stroke-width="2.40" stroke-linecap="round"/><path d="M571.8,304.8L574.5,316.0" stroke="#f2f4f4" stroke-width="2.40" stroke-linecap="round"/><path d="M555.6,312.8L555.5,325.5" stroke="#f2f4f4" stroke-width="2.40" stroke-linecap="round"/><circle cx="556.25" cy="245" r="8" fill="url(#ball)"/>
<path d="M121.0,334.5 v3.9" stroke="#241f14" stroke-width="1.2" stroke-linecap="round"/><circle cx="121" cy="332.5" r="4" fill="url(#tg)"/>
<path d="M664.0,336.5 v4.1" stroke="#241f14" stroke-width="1.3" stroke-linecap="round"/><circle cx="667.5" cy="326.9" r="4.7" fill="url(#tg)"/><circle cx="671" cy="327.5" r="5.5" fill="url(#tg)"/><circle cx="670.5" cy="329.6" r="5.4" fill="url(#tg)"/><circle cx="664.4" cy="331.1" r="5.2" fill="url(#tg)"/><circle cx="664" cy="334" r="4.5" fill="url(#tg)"/>
<path d="M619.8,337.1 v4.2" stroke="#241f14" stroke-width="1.7" stroke-linecap="round"/><circle cx="614" cy="316" r="4.5" fill="url(#tg2)"/><circle cx="618.5" cy="322.5" r="6.0" fill="url(#tg2)"/><circle cx="627.5" cy="325.9" r="4.7" fill="url(#tg2)"/><circle cx="623.2" cy="326.3" r="6.8" fill="url(#tg2)"/><circle cx="630.5" cy="328.6" r="5.4" fill="url(#tg2)"/><circle cx="614.2" cy="328.7" r="6.6" fill="url(#tg2)"/><circle cx="624.4" cy="330.1" r="5.2" fill="url(#tg2)"/><circle cx="619.8" cy="332.1" r="7.0" fill="url(#tg2)"/><circle cx="607.5" cy="334" r="4.5" fill="url(#tg2)"/>
<polygon points="160.0,329.5 248.5,387.4 252.5,390.4 164.0,332.5" fill="#222" opacity=".35"/><polygon points="160.0,329.5 237.9,380.5 237.9,373.5 160.0,322.5" fill="#dfe0e0" /><polygon points="160.0,328.7 248.5,386.6 248.5,384.8 160.0,326.9" fill="#f39a2b" /><polygon points="160.0,329.5 248.5,387.4 248.5,386.6 160.0,328.7" fill="#cfcfcf" /><polygon points="160.0,322.5 237.9,373.5 246.4,370.3 168.5,319.3" fill="#f7f7f7" /><polygon points="160.0,329.5 160.0,322.5 168.5,319.3" fill="#f39a2b" opacity=".0"/><polygon points="237.9,377.9 248.5,384.8 248.5,384.0 237.9,373.5" fill="#e6e6e6" /><polygon points="237.9,373.5 248.5,384.0 257.0,380.8 246.4,370.3" fill="#f5a033" /><polygon points="242.7,375.3 247.7,380.2 252.1,378.5 247.1,373.6" fill="#262626" /><polygon points="248.5,387.4 257.0,384.2 257.0,380.8 248.5,384.0" fill="#f0f0f0" /><polygon points="248.5,386.6 257.0,383.4 257.0,381.8 248.5,385.0" fill="#f39a2b" /><path d="M200.7,356.1 v-7.0 l8.5,-3.2" stroke="#b0b0b0" stroke-width=".8" fill="none"/>
<path d="M282.5,347.0 v3.8" stroke="#241f14" stroke-width="1.2" stroke-linecap="round"/><circle cx="282.5" cy="346" r="3" fill="url(#tg2)"/>
<path d="M330.0,347.0 v4.1" stroke="#241f14" stroke-width="1.3" stroke-linecap="round"/><circle cx="326" cy="336" r="5.5" fill="url(#tg)"/><circle cx="332.5" cy="340" r="4.5" fill="url(#tg)"/><circle cx="330" cy="345" r="4" fill="url(#tg)"/>
<path d="M287.5,352.0 v4.0" stroke="#241f14" stroke-width="1.2" stroke-linecap="round"/><circle cx="291" cy="344" r="5" fill="url(#tg)"/><circle cx="287.5" cy="350" r="4" fill="url(#tg)"/>
<path d="M129.0,352.5 v4.1" stroke="#241f14" stroke-width="1.4" stroke-linecap="round"/><circle cx="134" cy="342.5" r="4" fill="url(#tg)"/><circle cx="131" cy="346" r="6" fill="url(#tg)"/><circle cx="129" cy="350" r="4.5" fill="url(#tg)"/>
<path d="M542.5,352.5 v4.2" stroke="#241f14" stroke-width="1.7" stroke-linecap="round"/><circle cx="549" cy="336" r="5" fill="url(#tg)"/><circle cx="544" cy="339" r="7" fill="url(#tg)"/><circle cx="542.5" cy="349" r="5.5" fill="url(#tg)"/>
<path d="M439.0,353.5 v4.2" stroke="#241f14" stroke-width="1.7" stroke-linecap="round"/><circle cx="436" cy="342.5" r="7" fill="url(#tg)"/><circle cx="439" cy="350" r="5.5" fill="url(#tg)"/>
<path d="M561.0,356.5 v4.2" stroke="#241f14" stroke-width="1.6" stroke-linecap="round"/><circle cx="562.5" cy="342.2" r="5.6" fill="url(#tg2)"/><circle cx="566.1" cy="345.6" r="6.5" fill="url(#tg2)"/><circle cx="558.7" cy="347.4" r="6.3" fill="url(#tg2)"/><circle cx="561" cy="352.5" r="6" fill="url(#tg2)"/>
<path d="M488.4,356.8 v4.3" stroke="#241f14" stroke-width="1.8" stroke-linecap="round"/><circle cx="486.9" cy="340.5" r="6.6" fill="url(#tg)"/><circle cx="491.0" cy="341.8" r="5.2" fill="url(#tg)"/><circle cx="497.1" cy="343.2" r="5.4" fill="url(#tg)"/><circle cx="492.1" cy="344.7" r="7.5" fill="url(#tg)"/><circle cx="494.1" cy="345.6" r="5.0" fill="url(#tg)"/><circle cx="482.2" cy="347.3" r="7.3" fill="url(#tg)"/><circle cx="488.4" cy="351.1" r="7.7" fill="url(#tg)"/>
<path d="M619.0,358.0 v4.0" stroke="#241f14" stroke-width="1.2" stroke-linecap="round"/><circle cx="619" cy="355" r="5" fill="url(#tg)"/>
<path d="M239.0,360.0 v3.8" stroke="#241f14" stroke-width="1.2" stroke-linecap="round"/><circle cx="239" cy="359" r="3" fill="url(#tg)"/>
<path d="M500.0,360.5 v4.0" stroke="#241f14" stroke-width="1.2" stroke-linecap="round"/><circle cx="500" cy="357.5" r="5" fill="url(#tg2)"/>
<path d="M246.0,361.5 v3.8" stroke="#241f14" stroke-width="1.2" stroke-linecap="round"/><circle cx="246" cy="360" r="3.5" fill="url(#tg2)"/>
<path d="M593.3,373.6 v4.2" stroke="#241f14" stroke-width="1.7" stroke-linecap="round"/><circle cx="597.5" cy="357.5" r="7" fill="url(#tg)"/><circle cx="592.0" cy="359.0" r="6.0" fill="url(#tg)"/><circle cx="585" cy="362.5" r="5.5" fill="url(#tg)"/><circle cx="596.7" cy="362.8" r="6.8" fill="url(#tg)"/><circle cx="587.7" cy="365.2" r="6.6" fill="url(#tg)"/><circle cx="593.3" cy="368.6" r="7.0" fill="url(#tg)"/>
<path d="M319.0,376.5 v4.1" stroke="#241f14" stroke-width="1.4" stroke-linecap="round"/><circle cx="321.0" cy="365.2" r="5.2" fill="url(#tg)"/><circle cx="327.1" cy="366.8" r="5.4" fill="url(#tg)"/><circle cx="324.1" cy="369.1" r="5.0" fill="url(#tg)"/><circle cx="330" cy="371" r="5.5" fill="url(#tg)"/><circle cx="319" cy="372.5" r="6" fill="url(#tg)"/>
<path d="M469.0,378.0 v4.1" stroke="#241f14" stroke-width="1.4" stroke-linecap="round"/><circle cx="460" cy="365" r="6" fill="url(#tg)"/><circle cx="465" cy="370" r="4.5" fill="url(#tg)"/><circle cx="469" cy="376" r="4" fill="url(#tg)"/>
<polygon points="382.0,273.8 403.8,285.0 410.0,382.5 386.0,370.0" fill="#dcdedd" stroke="#dcdedd" stroke-width=".6"/><polygon points="403.8,285.0 430.8,275.0 430.8,367.0 410.0,382.5" fill="#f3f4f4" stroke="#f3f4f4" stroke-width=".6"/><polygon points="382.4,282.4 404.3,293.8 404.8,301.2 382.7,289.8" fill="#373a38" /><polygon points="404.3,293.8 430.8,283.3 430.8,290.3 404.8,301.2" fill="#474a48" /><polygon points="383.0,297.2 405.3,308.8 405.8,316.2 383.3,304.6" fill="#373a38" /><polygon points="405.3,308.8 430.8,297.4 430.8,304.5 405.8,316.2" fill="#474a48" /><polygon points="383.6,312.0 406.2,323.8 406.7,331.2 383.9,319.4" fill="#373a38" /><polygon points="406.2,323.8 430.8,311.6 430.8,318.6 406.7,331.2" fill="#474a48" /><polygon points="384.2,326.8 407.2,338.8 407.7,346.2 384.5,334.2" fill="#373a38" /><polygon points="407.2,338.8 430.8,325.7 430.8,332.8 407.7,346.2" fill="#474a48" /><polygon points="384.8,341.6 408.2,353.8 408.6,361.2 385.1,349.0" fill="#373a38" /><polygon points="408.2,353.8 430.8,339.9 430.8,346.9 408.6,361.2" fill="#474a48" /><polygon points="385.4,356.4 409.1,368.8 409.6,376.2 385.7,363.8" fill="#373a38" /><polygon points="409.1,368.8 430.8,354.0 430.8,361.1 409.6,376.2" fill="#474a48" /><polygon points="382.0,273.8 403.8,285.0 430.8,275.0 408.8,263.8" fill="#f4f5f5" stroke="#f4f5f5" stroke-width=".6"/><use href="#panel" x="405.0" y="271.5"/><use href="#panel" x="394.5" y="276.0"/>
<path d="M185.0,381.0 v3.8" stroke="#241f14" stroke-width="1.2" stroke-linecap="round"/><circle cx="185" cy="380" r="3" fill="url(#tg)"/>
<path d="M176.0,382.0 v4.1" stroke="#241f14" stroke-width="1.3" stroke-linecap="round"/><circle cx="177.5" cy="370" r="5.5" fill="url(#tg2)"/><circle cx="176" cy="379" r="5" fill="url(#tg2)"/>
<path d="M276.0,384.0 v4.2" stroke="#241f14" stroke-width="1.6" stroke-linecap="round"/><circle cx="281.0" cy="373.7" r="5.6" fill="url(#tg2)"/><circle cx="284.6" cy="377.1" r="6.5" fill="url(#tg2)"/><circle cx="277.2" cy="378.9" r="6.3" fill="url(#tg2)"/><circle cx="276" cy="380" r="6" fill="url(#tg2)"/>
<path d="M387.5,389.0 v4.2" stroke="#241f14" stroke-width="1.7" stroke-linecap="round"/><circle cx="391" cy="380" r="5.5" fill="url(#tg)"/><circle cx="387.5" cy="384" r="7" fill="url(#tg)"/>
<path d="M290.0,391.0 v3.8" stroke="#241f14" stroke-width="1.2" stroke-linecap="round"/><circle cx="290" cy="390" r="3" fill="url(#tg)"/>
<path d="M400.0,391.0 v3.8" stroke="#241f14" stroke-width="1.2" stroke-linecap="round"/><circle cx="400" cy="390" r="3" fill="url(#tg)"/>
<path d="M465.0,391.5 v3.9" stroke="#241f14" stroke-width="1.2" stroke-linecap="round"/><circle cx="465" cy="389" r="4.5" fill="url(#tg)"/>
<polygon points="336.6,341.0 361.2,353.6 358.7,399.0 337.2,386.4" fill="#dcdedd" stroke="#dcdedd" stroke-width=".6"/><polygon points="361.2,353.6 386.2,342.5 386.2,386.5 358.7,399.0" fill="#f3f4f4" stroke="#f3f4f4" stroke-width=".6"/><polygon points="336.7,346.4 360.9,359.0 360.5,366.7 336.8,354.1" fill="#373a38" /><polygon points="360.9,359.0 386.2,347.7 386.2,355.2 360.5,366.7" fill="#474a48" /><polygon points="336.9,360.5 360.1,373.1 359.7,380.8 337.0,368.2" fill="#373a38" /><polygon points="360.1,373.1 386.2,361.4 386.2,368.9 359.7,380.8" fill="#474a48" /><polygon points="337.0,374.6 359.3,387.2 358.9,394.9 337.1,382.3" fill="#373a38" /><polygon points="359.3,387.2 386.2,375.1 386.2,382.5 358.9,394.9" fill="#474a48" /><polygon points="336.6,341.0 361.2,353.6 386.2,342.5 361.2,330.5" fill="#f4f5f5" stroke="#f4f5f5" stroke-width=".6"/><use href="#panel" x="360.0" y="337.0"/><use href="#panel" x="348.8" y="342.0"/>
<path d="M345.0,394.0 v3.8" stroke="#241f14" stroke-width="1.2" stroke-linecap="round"/><circle cx="345" cy="392.5" r="3.5" fill="url(#tg)"/>
<path d="M371.0,396.5 v3.8" stroke="#241f14" stroke-width="1.2" stroke-linecap="round"/><circle cx="371" cy="395" r="3.5" fill="url(#tg2)"/>
<polygon points="414.4,372.4 436.3,383.8 436.3,404.5 414.4,395.5" fill="#dcdedd" stroke="#dcdedd" stroke-width=".6"/><polygon points="436.3,383.8 463.6,373.7 463.6,395.5 436.3,404.5" fill="#f3f4f4" stroke="#f3f4f4" stroke-width=".6"/><polygon points="414.4,382.0 436.3,392.4 436.3,399.9 414.4,390.4" fill="#373a38" /><polygon points="436.3,392.4 463.6,382.8 463.6,390.7 436.3,399.9" fill="#474a48" /><polygon points="414.4,372.4 436.3,383.8 463.6,373.7 440.0,362.5" fill="#f4f5f5" stroke="#f4f5f5" stroke-width=".6"/><use href="#panel" x="437.5" y="368.5"/><use href="#panel" x="426.2" y="373.0"/>
<path d="M220.0,409.5 v3.9" stroke="#241f14" stroke-width="1.2" stroke-linecap="round"/><circle cx="220" cy="407.5" r="4" fill="url(#tg)"/>
<path d="M325.0,417.5 v4.2" stroke="#241f14" stroke-width="1.7" stroke-linecap="round"/><circle cx="330.0" cy="403.7" r="5.6" fill="url(#tg2)"/><circle cx="333.6" cy="407.1" r="6.5" fill="url(#tg2)"/><circle cx="326.2" cy="408.9" r="6.3" fill="url(#tg2)"/><circle cx="325" cy="412.5" r="7" fill="url(#tg2)"/><circle cx="337.5" cy="412.5" r="6" fill="url(#tg2)"/>
<path d="M386.0,417.5 v3.8" stroke="#241f14" stroke-width="1.2" stroke-linecap="round"/><circle cx="386" cy="416" r="3.5" fill="url(#tg2)"/>
<path d="M372.5,418.5 v3.9" stroke="#241f14" stroke-width="1.2" stroke-linecap="round"/><circle cx="372.5" cy="416" r="4.5" fill="url(#tg)"/>
<path d="M398.7,419.7 v4.2" stroke="#241f14" stroke-width="1.7" stroke-linecap="round"/><circle cx="406" cy="409" r="7" fill="url(#tg)"/><circle cx="402.5" cy="410.2" r="5.6" fill="url(#tg)"/><circle cx="406.1" cy="413.6" r="6.5" fill="url(#tg)"/><circle cx="395" cy="415" r="6" fill="url(#tg)"/><circle cx="398.7" cy="415.4" r="6.3" fill="url(#tg)"/>
<path d="M449.0,424.5 v4.1" stroke="#241f14" stroke-width="1.4" stroke-linecap="round"/><circle cx="445" cy="415" r="6" fill="url(#tg)"/><circle cx="452.5" cy="416" r="5" fill="url(#tg)"/><circle cx="449" cy="422.5" r="4" fill="url(#tg)"/>
<path d="M260.0,427.0 v4.0" stroke="#241f14" stroke-width="1.3" stroke-linecap="round"/><circle cx="259.5" cy="419.2" r="5.2" fill="url(#tg)"/><circle cx="265.6" cy="420.8" r="5.4" fill="url(#tg)"/><circle cx="262.6" cy="423.1" r="5.0" fill="url(#tg)"/><circle cx="260" cy="424" r="5" fill="url(#tg)"/>
<path d="M364.4,433.3 v4.2" stroke="#241f14" stroke-width="1.6" stroke-linecap="round"/><circle cx="358.9" cy="421.6" r="6.3" fill="url(#tg2)"/><circle cx="366.3" cy="423.4" r="6.5" fill="url(#tg2)"/><circle cx="367.5" cy="425.9" r="4.7" fill="url(#tg2)"/><circle cx="362.7" cy="426.3" r="5.9" fill="url(#tg2)"/><circle cx="370.5" cy="428.6" r="5.4" fill="url(#tg2)"/><circle cx="364.4" cy="430.1" r="5.2" fill="url(#tg2)"/>
<path d="M383.3,445.6 v4.2" stroke="#241f14" stroke-width="1.7" stroke-linecap="round"/><circle cx="382.0" cy="431.0" r="6.0" fill="url(#tg)"/><circle cx="390" cy="432.5" r="6" fill="url(#tg)"/><circle cx="386.7" cy="434.8" r="6.8" fill="url(#tg)"/><circle cx="377.7" cy="437.2" r="6.6" fill="url(#tg)"/><circle cx="383.3" cy="440.6" r="7.0" fill="url(#tg)"/>
<polygon points="318.3,435.4 318.4,432.7 318.6,430.9 318.9,429.2 319.4,427.7 320.0,426.3 320.8,424.9 321.7,423.7 322.7,422.5 323.9,421.4 325.2,420.3 326.7,419.3 328.4,418.4 330.3,417.5 333.3,416.3 336.3,415.2 338.2,414.7 339.9,414.4 341.4,414.3 342.7,414.4 343.9,414.6 344.9,415.0 367.4,429.0 368.3,429.6 369.1,430.4 369.7,431.3 370.2,432.5 370.5,433.9 370.7,435.6 370.8,438.2 370.8,459.2 340.8,470.4 318.3,456.4" fill="url(#tun2)" /><polygon points="340.8,470.4 340.8,449.4 340.9,446.7 341.1,444.9 341.4,443.2 341.9,441.7 342.5,440.3 343.3,439.0 344.2,437.7 345.2,436.5 346.4,435.4 347.7,434.3 349.2,433.3 350.9,432.4 352.8,431.5 355.8,430.3 358.8,429.3 360.7,428.7 362.4,428.4 363.9,428.3 365.2,428.4 366.4,428.6 367.4,429.0 368.3,429.6 369.1,430.4 369.7,431.3 370.2,432.5 370.5,433.9 370.7,435.6 370.8,438.2 370.8,459.2" fill="url(#tun2f)" />
<path d="M301.0,467.5 v4.1" stroke="#241f14" stroke-width="1.3" stroke-linecap="round"/><circle cx="296" cy="450" r="5.5" fill="url(#tg)"/><circle cx="294" cy="456" r="5.5" fill="url(#tg)"/><circle cx="301" cy="456" r="4" fill="url(#tg)"/><circle cx="301" cy="465" r="4.5" fill="url(#tg)"/>
<path d="M319.8,468.0 v4.2" stroke="#241f14" stroke-width="1.6" stroke-linecap="round"/><circle cx="318.5" cy="454.2" r="5.7" fill="url(#tg)"/><circle cx="315" cy="455" r="6" fill="url(#tg)"/><circle cx="323.0" cy="457.9" r="6.5" fill="url(#tg)"/><circle cx="314.4" cy="460.1" r="6.3" fill="url(#tg)"/><circle cx="319.8" cy="463.4" r="6.6" fill="url(#tg)"/>
<line x1="694" y1="112.5" x2="309" y2="113" stroke="#f68b1f" stroke-width="2" stroke-linecap="round"/>
<line x1="694" y1="112.5" x2="118" y2="188.4" stroke="#f68b1f" stroke-width="2" stroke-linecap="round"/>
<line x1="694" y1="112.5" x2="29" y2="401.6" stroke="#f68b1f" stroke-width="2" stroke-linecap="round"/>
<line x1="694" y1="112.5" x2="480" y2="475" stroke="#f68b1f" stroke-width="2" stroke-linecap="round"/>
<line x1="694" y1="112.5" x2="634.8" y2="396.9" stroke="#f68b1f" stroke-width="2" stroke-linecap="round"/>
<line x1="364" y1="148.6" x2="433.75" y2="196.25" stroke="#111" stroke-width="2.5" stroke-linecap="round" stroke-dasharray="0 6"/>
<line x1="174" y1="218" x2="239" y2="262.7" stroke="#111" stroke-width="2.5" stroke-linecap="round" stroke-dasharray="0 6"/>
<line x1="88" y1="416.6" x2="207" y2="372" stroke="#111" stroke-width="2.5" stroke-linecap="round" stroke-dasharray="0 6"/>
<line x1="529" y1="481.6" x2="397.5" y2="393.75" stroke="#111" stroke-width="2.5" stroke-linecap="round" stroke-dasharray="0 6"/>
<line x1="701" y1="423.8" x2="571.25" y2="336.25" stroke="#111" stroke-width="2.5" stroke-linecap="round" stroke-dasharray="0 6"/>
<ellipse cx="326.0" cy="154.4" rx="21" ry="5.5" fill="#777" opacity=".34" filter="url(#b2)"/><polygon points="299.0,113.0 312.0,120.4 312.0,159.4 299.0,150.0" fill="#303132"/><polygon points="312.0,120.4 321.0,116.0 321.0,154.0 312.0,159.4" fill="#222324"/><polygon points="299.0,113.0 312.0,120.4 321.0,116.0 308.0,108.6" fill="#3d3f40"/><polygon points="313.2,122.1 320.7,118.4 320.7,124.6 313.2,128.2" fill="#f7931e"/><polygon points="313.2,129.2 320.7,125.6 320.7,131.8 313.2,135.4" fill="#f7931e"/><polygon points="313.2,136.4 320.7,132.8 320.7,139.0 313.2,142.7" fill="#f7931e"/><polygon points="313.2,143.7 320.7,140.0 320.7,146.2 313.2,149.8" fill="#f7931e"/><polygon points="313.2,150.8 320.7,147.2 320.7,153.3 313.2,157.1" fill="#f7931e"/><rect x="300.5" y="119.0" width="1.6" height="2.2" fill="#5c7a9a" opacity=".8"/><line x1="305.5" y1="118.7" x2="305.5" y2="153.7" stroke="#1c1c1c" stroke-width=".6"/>
<ellipse cx="133.0" cy="227.4" rx="21" ry="5.5" fill="#777" opacity=".34" filter="url(#b2)"/><polygon points="106.0,187.6 119.0,195.0 119.0,232.4 106.0,223.0" fill="#303132"/><polygon points="119.0,195.0 128.0,190.0 128.0,228.0 119.0,232.4" fill="#222324"/><polygon points="106.0,187.6 119.0,195.0 128.0,190.0 115.0,183.0" fill="#3d3f40"/><polygon points="120.2,210.4 127.7,206.1 127.7,212.0 120.2,216.3" fill="#f7931e"/><polygon points="120.2,217.3 127.7,213.0 127.7,218.9 120.2,223.2" fill="#f7931e"/><polygon points="120.2,224.2 127.7,219.9 127.7,225.8 120.2,230.0" fill="#f7931e"/><rect x="107.5" y="193.6" width="1.6" height="2.2" fill="#5c7a9a" opacity=".8"/><line x1="112.5" y1="193.3" x2="112.5" y2="226.7" stroke="#1c1c1c" stroke-width=".6"/>
<ellipse cx="46.0" cy="441.4" rx="21" ry="5.5" fill="#777" opacity=".34" filter="url(#b2)"/><polygon points="18.4,400.0 32.0,407.4 32.0,446.4 18.4,437.0" fill="#303132"/><polygon points="32.0,407.4 41.0,403.0 41.0,441.0 32.0,446.4" fill="#222324"/><polygon points="18.4,400.0 32.0,407.4 41.0,403.0 28.0,395.6" fill="#3d3f40"/><polygon points="33.2,416.2 40.7,412.5 40.7,418.8 33.2,422.4" fill="#f7931e"/><polygon points="33.2,423.4 40.7,419.8 40.7,425.9 33.2,429.6" fill="#f7931e"/><polygon points="33.2,430.6 40.7,426.9 40.7,433.1 33.2,436.8" fill="#f7931e"/><polygon points="33.2,437.8 40.7,434.1 40.7,440.3 33.2,444.0" fill="#f7931e"/><rect x="19.9" y="406.0" width="1.6" height="2.2" fill="#5c7a9a" opacity=".8"/><line x1="25.2" y1="405.7" x2="25.2" y2="440.7" stroke="#1c1c1c" stroke-width=".6"/>
<ellipse cx="494.0" cy="514.0" rx="21" ry="5.5" fill="#777" opacity=".34" filter="url(#b2)"/><polygon points="467.0,473.0 480.0,480.4 480.0,519.0 467.0,510.0" fill="#303132"/><polygon points="480.0,480.4 489.0,476.0 489.0,514.0 480.0,519.0" fill="#222324"/><polygon points="467.0,473.0 480.0,480.4 489.0,476.0 476.0,468.6" fill="#3d3f40"/><polygon points="481.2,496.3 488.7,492.6 488.7,498.7 481.2,502.4" fill="#f7931e"/><polygon points="481.2,503.4 488.7,499.7 488.7,505.8 481.2,509.5" fill="#f7931e"/><polygon points="481.2,510.5 488.7,506.8 488.7,513.0 481.2,516.7" fill="#f7931e"/><rect x="468.5" y="479.0" width="1.6" height="2.2" fill="#5c7a9a" opacity=".8"/><line x1="473.5" y1="478.7" x2="473.5" y2="513.5" stroke="#1c1c1c" stroke-width=".6"/>
<ellipse cx="646.6" cy="433.0" rx="21" ry="5.5" fill="#777" opacity=".34" filter="url(#b2)"/><polygon points="618.0,392.4 632.6,400.2 632.6,438.0 618.0,428.3" fill="#303132"/><polygon points="632.6,400.2 641.6,395.7 641.6,432.8 632.6,438.0" fill="#222324"/><polygon points="618.0,392.4 632.6,400.2 641.6,395.7 628.0,387.9" fill="#3d3f40"/><polygon points="633.8,408.8 641.3,405.0 641.3,411.0 633.8,414.8" fill="#f7931e"/><polygon points="633.8,415.8 641.3,412.0 641.3,417.9 633.8,421.7" fill="#f7931e"/><polygon points="633.8,422.7 641.3,418.9 641.3,424.9 633.8,428.7" fill="#f7931e"/><polygon points="633.8,429.7 641.3,425.9 641.3,431.8 633.8,435.6" fill="#f7931e"/><rect x="619.5" y="398.4" width="1.6" height="2.2" fill="#5c7a9a" opacity=".8"/><line x1="625.3" y1="398.3" x2="625.3" y2="432.1" stroke="#1c1c1c" stroke-width=".6"/>
<line x1="309" y1="113" x2="321.0" y2="113.0" stroke="#f68b1f" stroke-width="2" stroke-linecap="round"/>
<line x1="118" y1="188.4" x2="129.9" y2="186.8" stroke="#f68b1f" stroke-width="2" stroke-linecap="round"/>
<line x1="29" y1="401.6" x2="40.0" y2="396.8" stroke="#f68b1f" stroke-width="2" stroke-linecap="round"/>
<line x1="480" y1="475" x2="486.1" y2="464.7" stroke="#f68b1f" stroke-width="2" stroke-linecap="round"/>
<line x1="634.8" y1="396.9" x2="637.2" y2="385.2" stroke="#f68b1f" stroke-width="2" stroke-linecap="round"/>
<text x="331.6" y="137.4" font-size="18.4" font-weight="normal" textLength="88.4" lengthAdjust="spacing" fill="#111" stroke="#111" stroke-width=".4">Industriale</text>
<text x="141" y="211" font-size="18.4" font-weight="normal" textLength="97" lengthAdjust="spacing" fill="#111" stroke="#111" stroke-width=".4">Data center</text>
<text x="53" y="442.4" font-size="18.4" font-weight="normal" textLength="75" lengthAdjust="spacing" fill="#111" stroke="#111" stroke-width=".4">Trasporti</text>
<text x="505" y="504" font-size="18.4" font-weight="normal" textLength="95" lengthAdjust="spacing" fill="#111" stroke="#111" stroke-width=".4">Commercio</text>
<text x="612.4" y="456.4" font-size="18.4" font-weight="normal" textLength="155" lengthAdjust="spacing" fill="#111" stroke="#111" stroke-width=".4">Telecomunicazioni</text>
<text x="682.5" y="55.8" font-size="17.6" font-weight="bold" textLength="75.7" lengthAdjust="spacing" fill="#111">Dynamic</text>
<text x="682.5" y="76.3" font-size="17.6" font-weight="bold" textLength="36.7" lengthAdjust="spacing" fill="#111">Grid</text>
<text x="682.5" y="97.5" font-size="17.6" font-weight="bold" textLength="70.8" lengthAdjust="spacing" fill="#111">Support</text></svg></body></html>
